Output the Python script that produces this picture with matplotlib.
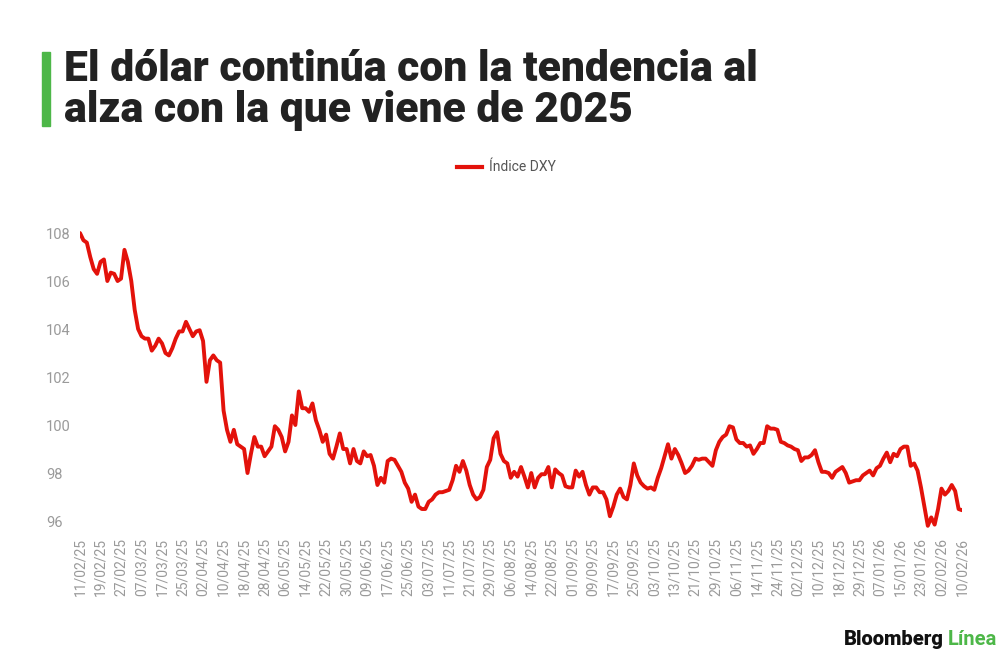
import matplotlib
matplotlib.use('Agg')
import matplotlib.pyplot as plt
from matplotlib.patches import Rectangle
import pandas as pd

# Datos: cierre diario del índice DXY (días hábiles)
FERIADOS = ['2025-12-25', '2026-01-01']
FECHAS = pd.bdate_range('2025-02-11', '2026-02-10').drop(pd.to_datetime(FERIADOS))

DXY = [
    108.0, 107.7, 107.6, 107.0, 106.5, 106.3, 106.8, 106.9, 106.0, 106.35,
    106.3, 106.0, 106.1, 107.3, 106.8, 106.0, 104.8, 104.0, 103.7, 103.6,
    103.6, 103.1, 103.3, 103.6, 103.4, 103.0, 102.9, 103.2, 103.6, 103.9,
    103.9, 104.3, 104.0, 103.7, 103.9, 103.95, 103.5, 101.8, 102.7, 102.9,
    102.7, 102.6, 100.6, 99.8, 99.3, 99.8, 99.2, 99.1, 99.0, 98.0,
    98.8, 99.5, 99.1, 99.1, 98.7, 98.9, 99.1, 99.95, 99.8, 99.5,
    98.9, 99.3, 100.4, 100.0, 101.4, 100.7, 100.7, 100.55, 100.9, 100.2,
    99.8, 99.3, 99.6, 98.8, 98.6, 99.1, 99.65, 99.0, 99.0, 98.4,
    99.0, 98.5, 98.4, 98.9, 98.7, 98.75, 98.3, 97.5, 97.8, 97.6,
    98.5, 98.6, 98.55, 98.3, 98.05, 97.6, 97.35, 96.8, 97.1, 96.6,
    96.5, 96.5, 96.8, 96.9, 97.1, 97.2, 97.2, 97.25, 97.3, 97.7,
    98.3, 98.05, 98.5, 98.1, 97.5, 97.1, 96.9, 97.0, 97.3, 98.25,
    98.55, 99.45, 99.7, 98.8, 98.5, 98.4, 97.8, 98.05, 97.85, 98.25,
    97.85, 97.4, 98.0, 97.4, 97.8, 97.95, 97.95, 98.25, 97.4, 98.15,
    98.0, 97.9, 97.45, 97.4, 97.4, 98.1, 97.85, 98.05, 97.5, 97.1,
    97.4, 97.4, 97.2, 97.2, 96.9, 96.2, 96.6, 97.1, 97.35, 97.0,
    96.9, 97.5, 98.4, 97.9, 97.6, 97.45, 97.35, 97.4, 97.3, 97.8,
    98.2, 98.7, 99.2, 98.6, 99.0, 98.75, 98.4, 98.0, 98.1, 98.3,
    98.6, 98.55, 98.6, 98.6, 98.45, 98.3, 98.95, 99.3, 99.5, 99.6,
    99.95, 99.9, 99.4, 99.25, 99.25, 99.1, 99.15, 98.8, 99.0, 99.25,
    99.25, 99.95, 99.85, 99.85, 99.8, 99.3, 99.25, 99.15, 99.1, 99.0,
    98.95, 98.5, 98.65, 98.65, 98.75, 98.95, 98.45, 98.05, 98.05, 98.0,
    97.8, 98.05, 98.15, 98.25, 98.0, 97.6, 97.65, 97.7, 97.7, 97.9,
    98.0, 98.1, 97.9, 98.2, 98.3, 98.6, 98.85, 98.45, 98.8, 98.7,
    99.0, 99.1, 99.1, 98.3, 98.4, 98.1, 97.4, 96.6, 95.8, 96.15,
    95.85, 96.5, 97.35, 97.1, 97.25, 97.5, 97.25, 96.5, 96.45,
]

Y_TICKS = [96, 98, 100, 102, 104, 106, 108]
PASO_ETIQUETAS = 6

TITULO = ['El dólar continúa con la tendencia al', 'alza con la que viene de 2025']
SERIE = 'Índice DXY'

ROJO = '#e3120b'
VERDE = '#4db748'
GRIS = '#9a9a9a'

plt.rcParams['font.family'] = ['Roboto', 'DejaVu Sans']

fig = plt.figure(figsize=(10, 6.6), dpi=100)
ax = fig.add_axes([0.08, 0.1924, 0.882, 0.4727])

x = list(range(len(DXY)))
ax.plot(x, DXY, color=ROJO, linewidth=2.8, solid_joinstyle='round', solid_capstyle='round')

ax.set_xlim(0, len(DXY) - 1)
ax.set_ylim(95.5, 108.5)

# Ejes sin bordes ni marcas
for s in ax.spines.values():
    s.set_visible(False)

ax.set_yticks(Y_TICKS)
ax.set_yticklabels([str(v) for v in Y_TICKS])
ax.tick_params(axis='y', length=0, pad=24.5, labelsize=10.5, labelcolor=GRIS)
for lbl in ax.get_yticklabels():
    lbl.set_horizontalalignment('left')

pos = x[::PASO_ETIQUETAS]
ax.set_xticks(pos)
ax.set_xticklabels([FECHAS[i].strftime('%d/%m/%y') for i in pos],
                   rotation=90, va='center', ha='center')
ax.tick_params(axis='x', length=0, pad=24.5, labelsize=10, labelcolor=GRIS)

# Leyenda
fig.add_artist(plt.Line2D([0.457, 0.482], [1 - 167 / 660] * 2, color=ROJO,
                          linewidth=3, transform=fig.transFigure))
fig.text(0.489, 1 - 167 / 660, SERIE, fontsize=10, color='#555555', va='center')

# Título con barra verde
fig.patches.append(Rectangle((0.042, 1 - 126 / 660), 0.008, 74 / 660,
                             transform=fig.transFigure, color=VERDE, zorder=3))
fig.text(0.064, 1 - 81 / 660, TITULO[0], fontsize=30.7, fontweight='black',
         color='#222222', va='baseline')
fig.text(0.064, 1 - 122 / 660, TITULO[1], fontsize=30.7, fontweight='black',
         color='#222222', va='baseline')

# Marca
fig.text(0.944, 1 - 645 / 660, 'Bloomberg', fontsize=14.5, fontweight='black',
         color='#111111', ha='right', va='baseline')
fig.text(0.948, 1 - 645 / 660, 'Línea', fontsize=14.5, fontweight='bold',
         color=VERDE, ha='left', va='baseline')

fig.savefig('out.png', dpi=100)
plt.close(fig)
